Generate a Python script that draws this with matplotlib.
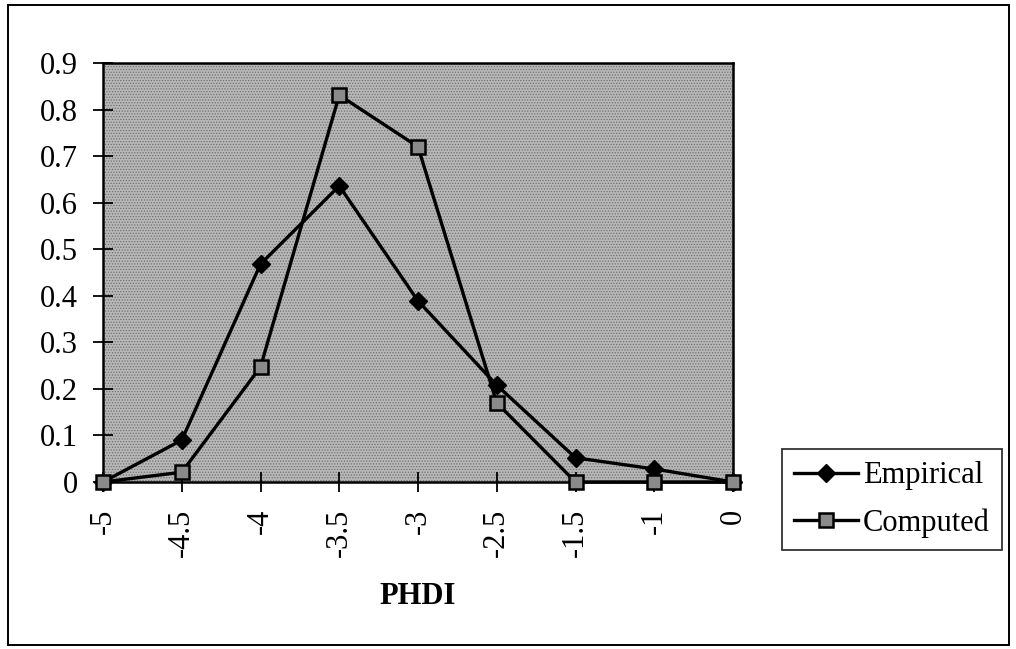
import numpy as np
import matplotlib
matplotlib.use("Agg")
import matplotlib.pyplot as plt
from matplotlib.patches import Rectangle

# PHDI class values (plotted as evenly spaced categories)
phdi_labels = ["-5", "-4.5", "-4", "-3.5", "-3", "-2.5", "-1.5", "-1", "0"]
empirical = [0.0, 0.09, 0.468, 0.636, 0.389, 0.208, 0.052, 0.028, 0.0]
computed = [0.0, 0.021, 0.247, 0.831, 0.72, 0.17, 0.0, 0.0, 0.0]
y_ticks = [0, 0.1, 0.2, 0.3, 0.4, 0.5, 0.6, 0.7, 0.8, 0.9]

plt.rcParams["font.family"] = ["Liberation Serif", "DejaVu Serif"]
plt.rcParams["hatch.linewidth"] = 0.6
FS = 22

fig = plt.figure(figsize=(10.16, 6.49), dpi=100)
fig.patch.set_facecolor("white")

# outer chart frame
fig.patches.append(Rectangle((8 / 1016, 4 / 649), 1001 / 1016, 640 / 649,
                             transform=fig.transFigure, fill=False,
                             edgecolor="black", lw=1.4))

ax = fig.add_axes([103 / 1016, 1 - 482 / 649, (733 - 103) / 1016, (482 - 63) / 649])
ax.set_facecolor("#b8b8b8")
# halftone-like dotted texture in the plot area
ax.add_patch(Rectangle((0, 0), 1, 1, transform=ax.transAxes, facecolor="none",
                       edgecolor="#707070", hatch="......", lw=0, zorder=0))

x = np.arange(len(phdi_labels))
ax.plot(x, empirical, color="black", lw=2.4, marker="D", markersize=9,
        markerfacecolor="black", label="Empirical", zorder=3, clip_on=False)
ax.plot(x, computed, color="black", lw=2.4, marker="s", markersize=10,
        markerfacecolor="#8a8a8a", markeredgecolor="black", markeredgewidth=1.8,
        label="Computed", zorder=4, clip_on=False)

ax.set_xlim(0, len(phdi_labels) - 1)
ax.set_ylim(0, 0.9)
ax.set_xticks(x)
ax.set_xticklabels(phdi_labels, rotation=90, fontsize=FS)
ax.set_yticks(y_ticks)
ax.set_yticklabels([f"{v:g}" for v in y_ticks], fontsize=FS)
ax.tick_params(axis="both", direction="inout", length=14, width=1.3)
ax.tick_params(axis="y", pad=11)
ax.tick_params(axis="x", pad=12)

for side in ["left", "bottom", "top", "right"]:
    ax.spines[side].set_linewidth(1.8)

ax.set_xlabel("PHDI", fontsize=FS, fontweight="bold", labelpad=18)

leg = fig.legend(loc="upper left", bbox_to_anchor=(782 / 1016, 1 - 449 / 649),
                 fontsize=FS, frameon=True, fancybox=False, edgecolor="black",
                 handlelength=2.1, handletextpad=0.15, borderpad=0.4,
                 labelspacing=0.6, borderaxespad=0)
leg.get_frame().set_linewidth(1.3)

fig.savefig("out.png", dpi=100)
